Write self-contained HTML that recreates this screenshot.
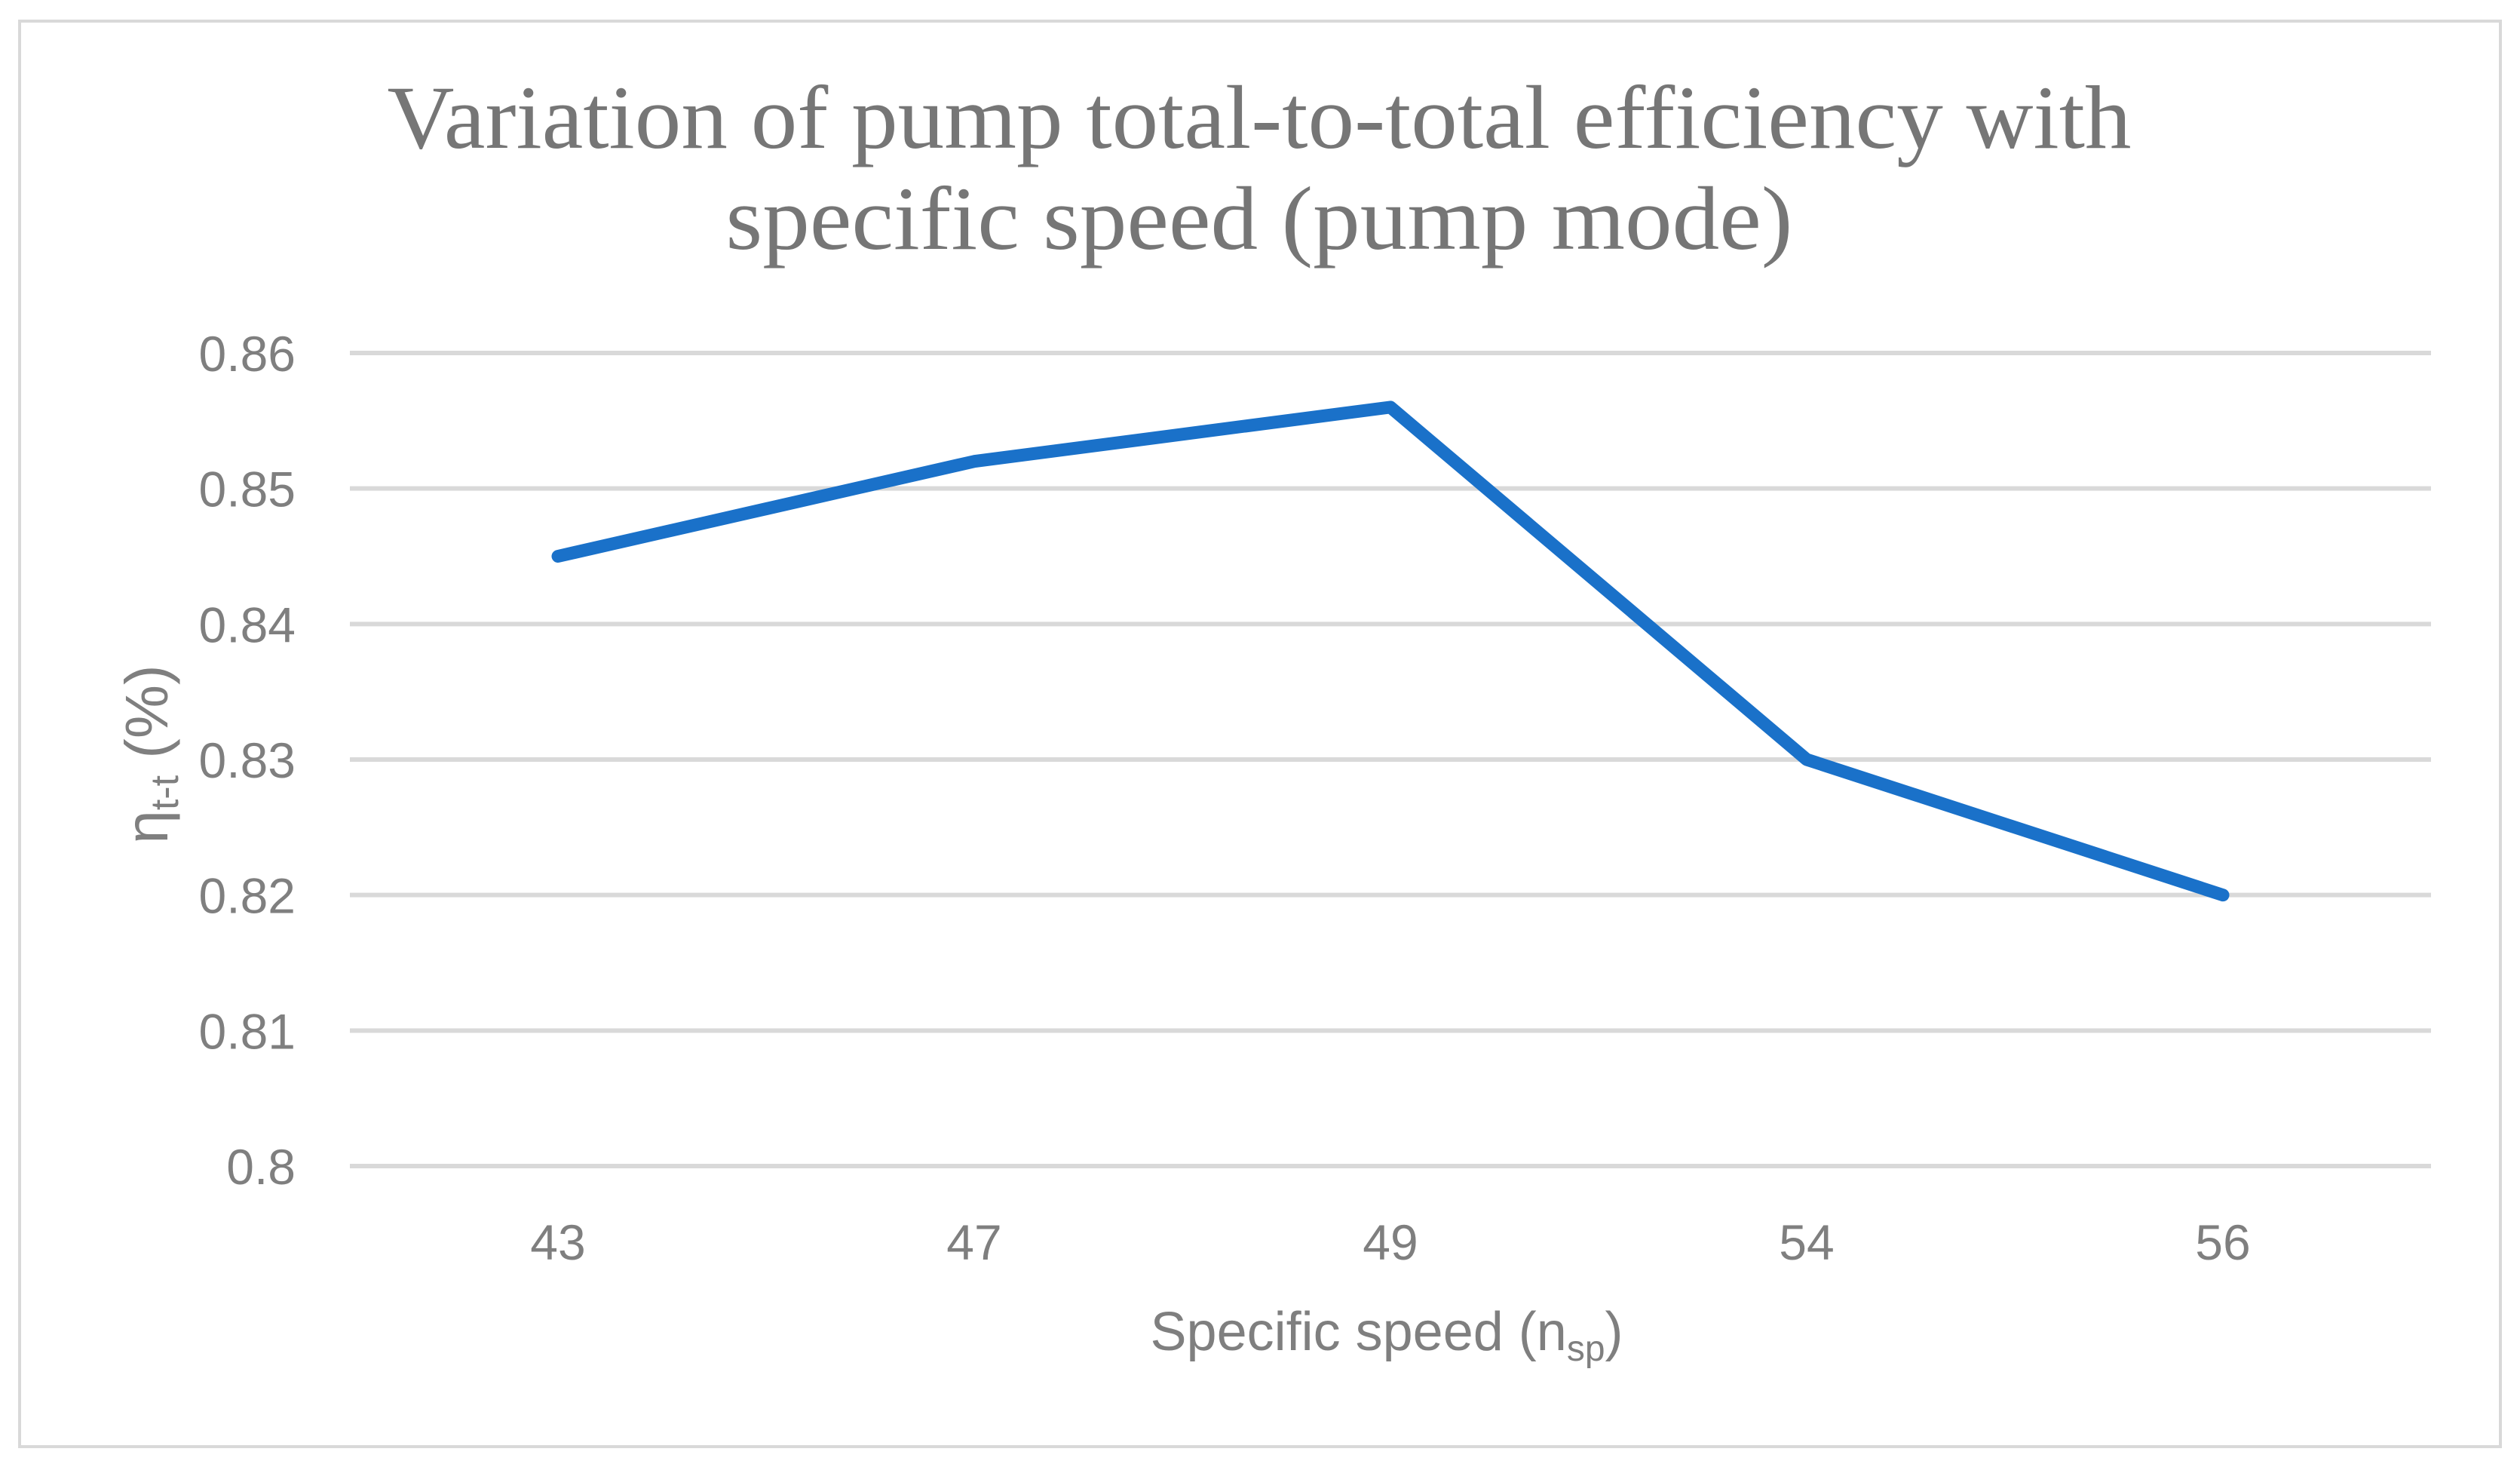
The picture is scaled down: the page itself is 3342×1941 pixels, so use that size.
<!DOCTYPE html>
<html><head><meta charset="utf-8"><style>
html,body{margin:0;padding:0;background:#fff;}
svg{display:block;}
</style></head><body>
<svg id="chart" width="3342" height="1941" viewBox="0 0 3342 1941" xmlns="http://www.w3.org/2000/svg">
<rect x="26" y="28" width="3290" height="1890" fill="#fff" stroke="#d9d9d9" stroke-width="4"/>
<g font-family="'Liberation Serif', serif" font-size="120" fill="#767676" text-anchor="middle">
<text x="1670" y="196" textLength="2313" lengthAdjust="spacingAndGlyphs">Variation of pump total-to-total efficiency with</text>
<text x="1670" y="330" textLength="1415" lengthAdjust="spacingAndGlyphs">specific speed (pump mode)</text>
</g>
<g id="grid"></g>
<g id="yticks" font-family="'Liberation Sans', sans-serif" font-size="66" fill="#7f7f7f" text-anchor="end"></g>
<g id="xticks" font-family="'Liberation Sans', sans-serif" font-size="66" fill="#7f7f7f" text-anchor="middle"></g>
<g id="series"></g>
<text x="1839" y="1790" font-family="'Liberation Sans', sans-serif" font-size="72" fill="#7f7f7f" text-anchor="middle">Specific speed (n<tspan font-size="48" dy="14">sp</tspan><tspan dy="-14">)</tspan></text>
<text transform="translate(222,1000) rotate(-90)" font-family="'Liberation Sans', sans-serif" font-size="80" fill="#7f7f7f" text-anchor="middle">η<tspan font-size="52" dy="14">t-t</tspan><tspan dy="-14"> (%)</tspan></text>
</svg>
<script>
const categories = ["43","47","49","54","56"];
const efficiency = [0.845,0.852,0.856,0.830,0.820];
const yTicks = [0.80,0.81,0.82,0.83,0.84,0.85,0.86];
const yTickLabels = ["0.8","0.81","0.82","0.83","0.84","0.85","0.86"];

const NS = "http://www.w3.org/2000/svg";
const plotL = 464, plotR = 3224, plotT = 468, plotB = 1546;
const yMin = 0.80, yMax = 0.86;
function yScale(v){ return plotB - (v - yMin) / (yMax - yMin) * (plotB - plotT); }
function xScale(i){ const w = (plotR - plotL) / categories.length; return plotL + w * (i + 0.5); }

const grid = document.getElementById('grid');
const yt = document.getElementById('yticks');
yTicks.forEach((v, i) => {
  const l = document.createElementNS(NS, 'line');
  
  
  l.setAttribute('x1', plotL); l.setAttribute('x2', plotR);
  l.setAttribute('y1', yScale(v)); l.setAttribute('y2', yScale(v));
  l.setAttribute('stroke', '#d9d9d9'); l.setAttribute('stroke-width', '6');
  grid.appendChild(l);
  const t = document.createElementNS(NS, 'text');
  
  
  t.setAttribute('x', 392); t.setAttribute('y', yScale(v) + 24);
  t.textContent = yTickLabels[i];
  yt.appendChild(t);
});
const xt = document.getElementById('xticks');
categories.forEach((c, i) => {
  const t = document.createElementNS(NS, 'text');
  
  
  t.setAttribute('x', xScale(i)); t.setAttribute('y', 1670);
  t.textContent = c;
  xt.appendChild(t);
});
const pts = efficiency.map((v, i) => xScale(i) + ',' + yScale(v)).join(' ');
const pl = document.createElementNS(NS, 'polyline');


pl.setAttribute('points', pts);
pl.setAttribute('fill', 'none');
pl.setAttribute('stroke', '#1a71c9');
pl.setAttribute('stroke-width', '17');
pl.setAttribute('stroke-linecap', 'round');
pl.setAttribute('stroke-linejoin', 'round');
document.getElementById('series').appendChild(pl);
</script>
</body></html>
